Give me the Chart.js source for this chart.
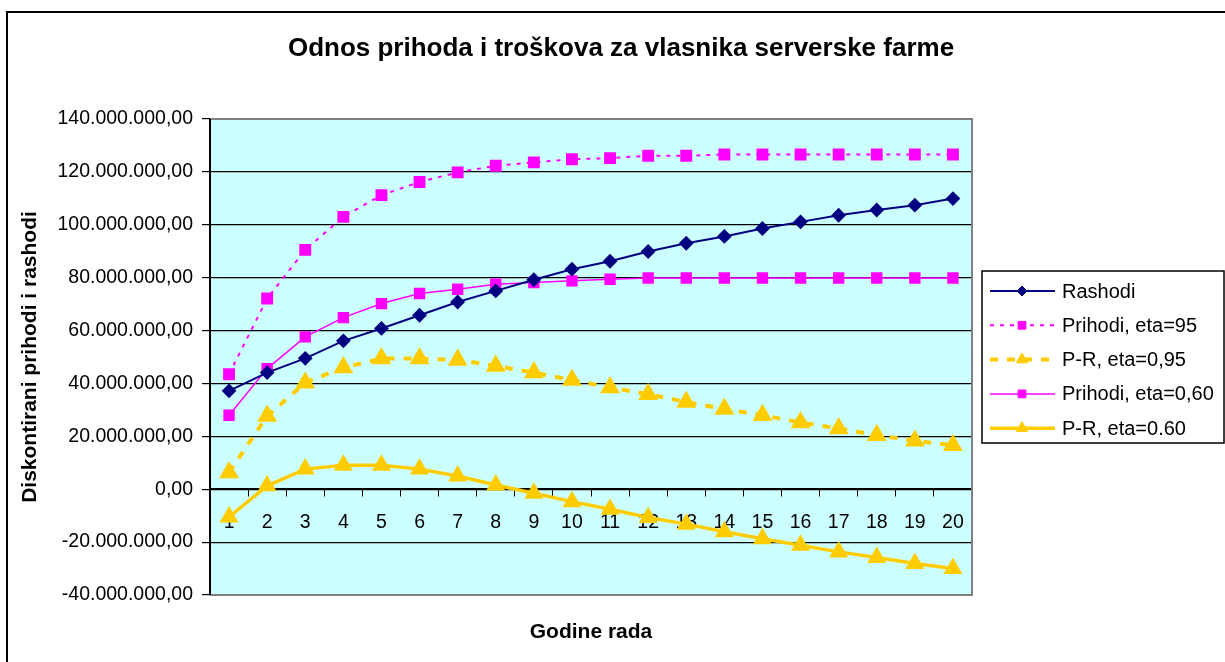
<!DOCTYPE html>
<html>
<head>
<meta charset="utf-8">
<script src="https://cdn.jsdelivr.net/npm/chart.js@4.4.1/dist/chart.umd.min.js"></script>
<style>
  html, body { margin: 0; padding: 0; background: #fff; }
  #wrap { width: 1225px; height: 662px; }
</style>
</head>
<body>
<div id="wrap"><canvas id="trendChart" width="1225" height="662"></canvas></div>
<script>
// Godine rada (x categories)
const years = ['1','2','3','4','5','6','7','8','9','10','11','12','13','14','15','16','17','18','19','20'];

// values in millions
const rashodi      = [37.2, 44.1, 49.5, 56.1, 60.8, 65.8, 70.8, 75.0, 79.2, 83.2, 86.2, 89.9, 93.0, 95.6, 98.6, 101.1, 103.6, 105.6, 107.4, 109.9];
const prihodi95    = [43.5, 72.1, 90.5, 103.0, 111.2, 116.2, 119.8, 122.3, 123.6, 124.8, 125.2, 126.1, 126.1, 126.6, 126.6, 126.6, 126.6, 126.6, 126.6, 126.6];
const pr095        = [6.3, 27.7, 40.3, 46.0, 49.4, 49.4, 48.9, 46.6, 44.1, 41.3, 38.5, 35.9, 33.0, 30.3, 28.0, 25.2, 23.0, 20.4, 18.3, 16.6];
const prihodi060   = [28.0, 45.6, 57.6, 64.9, 70.2, 74.0, 75.6, 77.5, 78.2, 78.8, 79.4, 79.9, 79.9, 79.9, 79.9, 79.9, 79.9, 79.9, 79.9, 79.9];
const pr060        = [-10.5, 1.3, 7.6, 9.1, 9.1, 7.6, 5.0, 1.6, -1.5, -4.7, -7.6, -10.7, -13.2, -16.1, -18.7, -21.2, -23.7, -25.8, -28.1, -30.0];

const seriesNames = ['Rashodi', 'Prihodi, eta=95', 'P-R, eta=0,95', 'Prihodi, eta=0,60', 'P-R, eta=0.60'];
const yMin = -40000000, yMax = 140000000, yStep = 20000000;

const FONT = '"Liberation Sans", Arial, sans-serif';
Chart.defaults.font.family = FONT;
Chart.defaults.color = '#000';

function fmt(v) {
    const neg = v < 0;
    let s = Math.abs(Math.round(v)).toString();
    s = s.replace(/\B(?=(\d{3})+(?!\d))/g, '.');
    return (neg ? '-' : '') + s + ',00';
}

const toUnits = arr => arr.map(v => v * 1000000);

// background, frame, titles, legend
const decor = {
    id: 'decor',
    beforeDraw(chart) {
        const { ctx, chartArea: a } = chart;
        ctx.save();
        ctx.fillStyle = '#ccffff';
        ctx.fillRect(a.left, a.top, a.right - a.left, a.bottom - a.top);
        ctx.restore();
    },
    afterDraw(chart) {
        const { ctx, chartArea: a } = chart;
        ctx.save();
        // plot frame
        ctx.strokeStyle = '#808080';
        ctx.lineWidth = 2;
        ctx.beginPath();
        ctx.moveTo(a.left, a.top); ctx.lineTo(a.right, a.top);
        ctx.lineTo(a.right, a.bottom); ctx.lineTo(a.left, a.bottom);
        ctx.stroke();
        ctx.strokeStyle = '#000';
        ctx.beginPath();
        ctx.moveTo(a.left, a.top); ctx.lineTo(a.left, a.bottom);
        ctx.stroke();

        // outer border
        ctx.lineWidth = 2;
        ctx.strokeRect(7, 12, 1400, 800);

        // titles
        ctx.fillStyle = '#000';
        ctx.textAlign = 'center';
        ctx.textBaseline = 'middle';
        ctx.font = 'bold 26px ' + FONT;
        ctx.fillText('Odnos prihoda i troškova za vlasnika serverske farme', 621, 49);
        ctx.font = 'bold 21px ' + FONT;
        ctx.fillText('Godine rada', (a.left + a.right) / 2, 632);
        ctx.save();
        ctx.translate(30, (a.top + a.bottom) / 2);
        ctx.rotate(-Math.PI / 2);
        ctx.fillText('Diskontirani prihodi i rashodi', 0, 0);
        ctx.restore();

        // legend
        ctx.lineWidth = 1.5;
        ctx.strokeStyle = '#000';
        ctx.strokeRect(982, 271, 242, 172);
        chart.data.datasets.forEach((ds, i) => {
            const y = 291 + i * 34.3;
            ctx.save();
            ctx.strokeStyle = ds.borderColor;
            ctx.lineWidth = ds.borderWidth;
            ctx.setLineDash(ds.borderDash || []);
            ctx.beginPath();
            ctx.moveTo(990, y); ctx.lineTo(1055, y);
            ctx.stroke();
            ctx.setLineDash([]);
            ctx.fillStyle = ds.pointBackgroundColor;
            ctx.strokeStyle = ds.pointBorderColor;
            ctx.lineWidth = 1;
            Chart.helpers.drawPoint(ctx, { pointStyle: ds.pointStyle, radius: ds.legendRadius, rotation: 0, borderWidth: 1 }, 1022, y);
            ctx.restore();
            ctx.fillStyle = '#000';
            ctx.textAlign = 'left';
            ctx.font = '20px ' + FONT;
            ctx.fillText(ds.label, 1062, y + 1);
        });
        ctx.restore();
    }
};

const ctx = document.getElementById('trendChart').getContext('2d');

new Chart(ctx, {
    type: 'line',
    data: {
        labels: years,
        datasets: [
            {
                label: seriesNames[0],
                data: toUnits(rashodi),
                borderColor: '#000080',
                backgroundColor: '#000080',
                pointBackgroundColor: '#000080',
                pointBorderColor: '#000080',
                borderWidth: 2,
                pointStyle: 'rectRot',
                pointRadius: 6,
                legendRadius: 5
            },
            {
                label: seriesNames[1],
                data: toUnits(prihodi95),
                borderColor: '#ff00ff',
                backgroundColor: '#ff00ff',
                pointBackgroundColor: '#ff00ff',
                pointBorderColor: '#ff00ff',
                borderWidth: 2,
                borderDash: [4, 6],
                pointStyle: 'rect',
                pointRadius: 7,
                legendRadius: 5.5
            },
            {
                label: seriesNames[2],
                data: toUnits(pr095),
                borderColor: '#ffcc00',
                backgroundColor: '#ffcc00',
                pointBackgroundColor: '#ffcc00',
                pointBorderColor: '#ffcc00',
                borderWidth: 4,
                borderDash: [8, 9],
                pointStyle: 'triangle',
                pointRadius: 7.5,
                legendRadius: 6.5
            },
            {
                label: seriesNames[3],
                data: toUnits(prihodi060),
                borderColor: '#ff00ff',
                backgroundColor: '#ff00ff',
                pointBackgroundColor: '#ff00ff',
                pointBorderColor: '#ff00ff',
                borderWidth: 1.5,
                pointStyle: 'rect',
                pointRadius: 7,
                legendRadius: 5.5
            },
            {
                label: seriesNames[4],
                data: toUnits(pr060),
                borderColor: '#ffcc00',
                backgroundColor: '#ffcc00',
                pointBackgroundColor: '#ffcc00',
                pointBorderColor: '#ffcc00',
                borderWidth: 3.5,
                pointStyle: 'triangle',
                pointRadius: 7.5,
                legendRadius: 6.5
            }
        ]
    },
    options: {
        responsive: false,
        animation: false,
        devicePixelRatio: 1,
        layout: { padding: { left: 0, top: 119, right: 253, bottom: 67 } },
        elements: { line: { tension: 0 }, point: { borderWidth: 1, hoverRadius: 7 } },
        plugins: {
            legend: { display: false },
            title: { display: false },
            tooltip: { enabled: false }
        },
        scales: {
            x: {
                type: 'category',
                position: { y: 0 },
                offset: true,
                afterFit: s => { s.height = 0; },
                grid: { drawOnChartArea: false, drawTicks: true, tickLength: 7, color: '#000', offset: true },
                border: { color: '#000', width: 1.5 },
                ticks: { font: { size: 19.5 }, color: '#000', padding: 15, maxRotation: 0, autoSkip: false }
            },
            y: {
                type: 'linear',
                min: yMin,
                max: yMax,
                afterFit: s => { s.width = 210; },
                grid: { color: '#000', lineWidth: 1.2, drawTicks: true, tickLength: 8 },
                border: { color: '#000', width: 1.5 },
                ticks: { stepSize: yStep, font: { size: 19.5 }, color: '#000', padding: 9, callback: v => fmt(v) }
            }
        }
    },
    plugins: [decor]
});
</script>
</body>
</html>
